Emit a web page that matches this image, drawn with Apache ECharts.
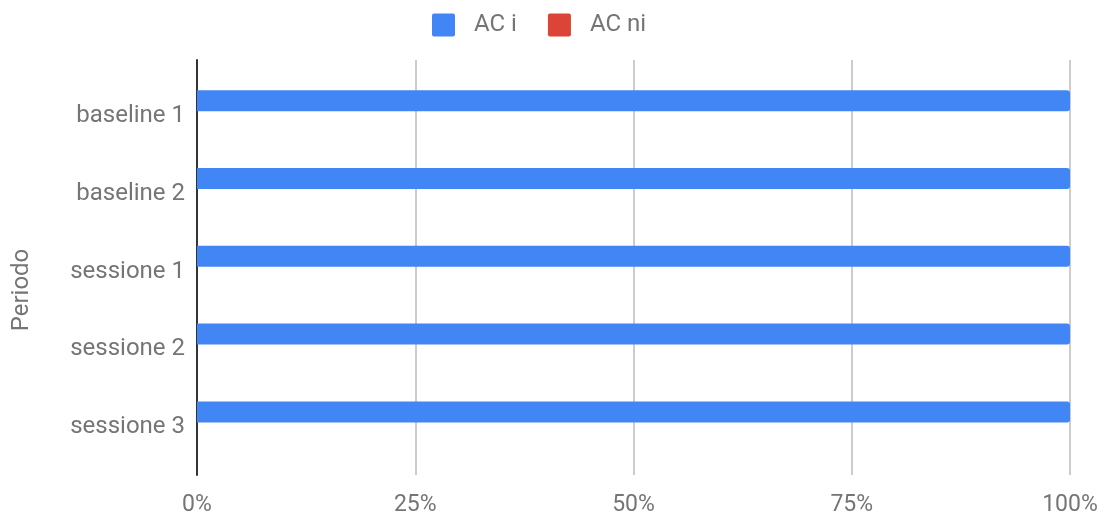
<!DOCTYPE html>
<html>
<head>
<meta charset="utf-8">
<script src="https://cdn.jsdelivr.net/npm/echarts@6/dist/echarts.min.js"></script>
<style>
  html, body { margin: 0; padding: 0; background: #fff; }
  #chart { width: 1104px; height: 517px; }
</style>
</head>
<body>
<div id="chart"></div>
<script>
// Periods on the vertical axis, top to bottom
const periods = ['baseline 1', 'baseline 2', 'sessione 1', 'sessione 2', 'sessione 3'];
// Share of each period (percent)
const acI = [100, 100, 100, 100, 100];
const acNi = [0, 0, 0, 0, 0];
// Percent ticks on the horizontal axis
const pctTicks = [0, 25, 50, 75, 100];

const TEXT = '#757575';
const FONT = 'Roboto';
// small square with slightly rounded corners for the legend
const SWATCH = 'path://M2,0 H21 Q23,0 23,2 V21 Q23,23 21,23 H2 Q0,23 0,21 V2 Q0,0 2,0 Z';

const chart = echarts.init(document.getElementById('chart'));

chart.setOption({
  animation: false,
  textStyle: { fontFamily: FONT },
  legend: {
    top: 8,
    left: 427,
    itemWidth: 23,
    itemHeight: 23,
    itemGap: 31,
    icon: SWATCH,
    textStyle: { fontSize: 24, color: TEXT, fontFamily: FONT, padding: [0, 0, 0, 14] },
    data: ['AC i', 'AC ni']
  },
  grid: [
    // frame: gridlines, percent labels and the dark left axis line
    { left: 197, right: 34, top: 60, bottom: 40 },
    // bars
    { left: 197, right: 34, top: 77, bottom: 51 }
  ],
  xAxis: [
    {
      gridIndex: 0,
      type: 'value',
      min: pctTicks[0],
      max: pctTicks[pctTicks.length - 1],
      interval: pctTicks[1] - pctTicks[0],
      axisLine: { show: false },
      axisTick: { show: false },
      axisLabel: { formatter: '{value}%', color: TEXT, fontSize: 23, fontFamily: FONT, margin: 19 },
      splitLine: { lineStyle: { color: '#cccccc', width: 2 } }
    },
    {
      gridIndex: 1,
      type: 'value',
      min: 0,
      max: 100,
      show: false
    }
  ],
  yAxis: [
    {
      gridIndex: 0,
      type: 'category',
      data: periods,
      axisLine: { lineStyle: { color: '#333333', width: 2 } },
      axisTick: { show: false },
      axisLabel: { show: false },
      splitLine: { show: false }
    },
    {
      gridIndex: 1,
      type: 'category',
      inverse: true,
      data: periods,
      axisLine: { show: false },
      axisTick: { show: false },
      axisLabel: { color: TEXT, fontSize: 24, fontFamily: FONT, margin: 12 },
      splitLine: { show: false }
    }
  ],
  graphic: [
    {
      type: 'text',
      x: 22,
      y: 290,
      rotation: Math.PI / 2,
      style: {
        text: 'Periodo',
        fill: TEXT,
        font: '24px Roboto',
        textAlign: 'center',
        textVerticalAlign: 'middle'
      }
    }
  ],
  series: [
    {
      name: 'AC i',
      type: 'bar',
      xAxisIndex: 1,
      yAxisIndex: 1,
      data: acI,
      barWidth: 21,
      barGap: '45%',
      itemStyle: { color: '#4285F4', borderRadius: [0, 3, 3, 0] }
    },
    {
      name: 'AC ni',
      type: 'bar',
      xAxisIndex: 1,
      yAxisIndex: 1,
      data: acNi,
      barWidth: 21,
      barGap: '45%',
      itemStyle: { color: '#DB4437', borderRadius: [0, 3, 3, 0] }
    }
  ]
});
</script>
</body>
</html>
